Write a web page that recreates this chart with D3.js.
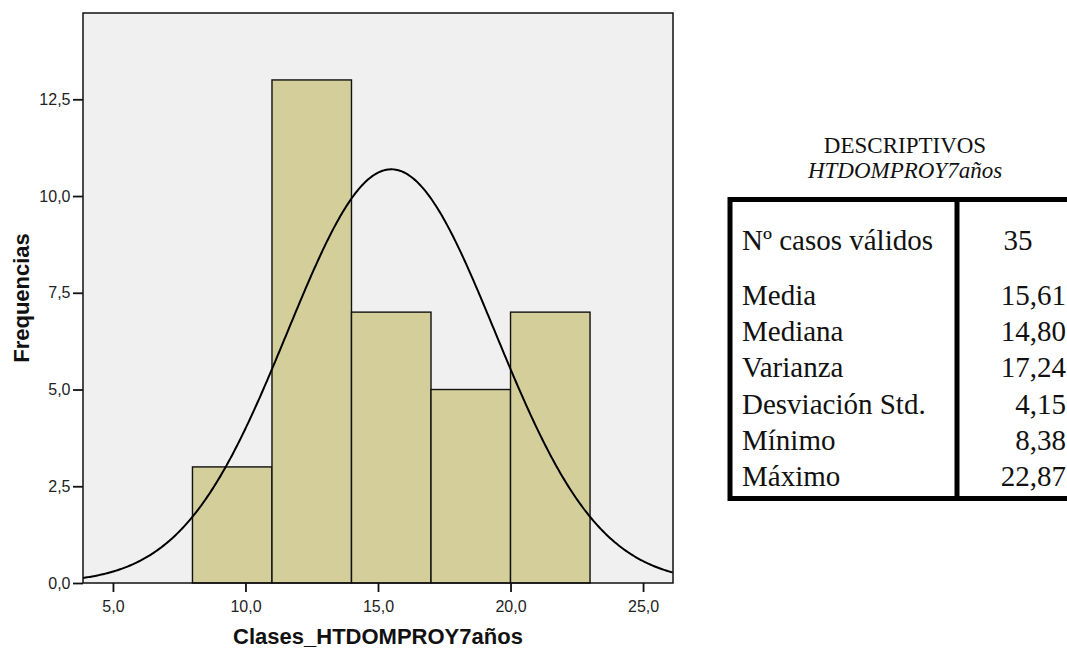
<!DOCTYPE html>
<html>
<head>
    <meta charset="utf-8">
    <title>Histograma HTDOMPROY7años</title>
    <script src="https://d3js.org/d3.v7.min.js"></script>
    <style>
        body { margin: 0; background: #fff; }
        svg { display: block; }
        .tick text { font-family: Arial, "Liberation Sans", sans-serif; font-size: 16px; fill: #222; }
        .axis-title { font-family: Arial, "Liberation Sans", sans-serif; font-weight: bold; font-size: 22px; fill: #111; }
        .stats text { font-family: "Times New Roman", "Liberation Serif", serif; fill: #111; }
    </style>
</head>
<body>
    <svg width="1067" height="648"></svg>

    <script>
    // histogram classes (lower bound of each class, width 3)
    const binStarts = [8, 11, 14, 17, 20];
    const binWidth = 3;
    const counts = [3, 13, 7, 5, 7];

    const xTicks = [5, 10, 15, 20, 25];
    const yTicks = [0, 2.5, 5, 7.5, 10, 12.5];

    // descriptive statistics table
    const statLabels = ["Nº casos válidos", "Media", "Mediana", "Varianza", "Desviación Std.", "Mínimo", "Máximo"];
    const statValues = ["35", "15,61", "14,80", "17,24", "4,15", "8,38", "22,87"];

    const svg = d3.select("svg");
    const locale = d3.formatLocale({ decimal: ",", thousands: ".", grouping: [3], currency: ["", " €"] });
    const fmt = locale.format(".1f");

    const plot = { left: 83, top: 13, right: 673, bottom: 583 };

    const x = d3.scaleLinear()
                .domain([3.87, 26.13])
                .range([plot.left, plot.right]);

    const y = d3.scaleLinear()
                .domain([0, 14.73])
                .range([plot.bottom, plot.top]);

    // plot background
    svg.append("rect")
        .attr("x", plot.left)
        .attr("y", plot.top)
        .attr("width", plot.right - plot.left)
        .attr("height", plot.bottom - plot.top)
        .style("fill", "#f0f0f0");

    // bars
    svg.selectAll("rect.bar")
        .data(binStarts)
        .enter().append("rect")
        .attr("class", "bar")
        .attr("x", d => x(d))
        .attr("y", (d, i) => y(counts[i]))
        .attr("width", d => x(d + binWidth) - x(d))
        .attr("height", (d, i) => y(0) - y(counts[i]))
        .style("fill", "#d3ce9a")
        .style("stroke", "#111")
        .style("stroke-width", 1.4);

    // normal curve fitted to the classes (same as SPSS)
    const n = d3.sum(counts);
    const mids = binStarts.map(b => b + binWidth / 2);
    const mean = d3.sum(mids, (m, i) => m * counts[i]) / n;
    const sd = Math.sqrt(d3.sum(mids, (m, i) => counts[i] * (m - mean) ** 2) / (n - 1));
    const density = v => n * binWidth / (sd * Math.sqrt(2 * Math.PI)) * Math.exp(-0.5 * ((v - mean) / sd) ** 2);
    const curveX = d3.range(x.domain()[0], x.domain()[1] + 0.001, 0.05);

    svg.append("path")
        .datum(curveX)
        .attr("d", d3.line().x(d => x(d)).y(d => y(density(d))))
        .style("fill", "none")
        .style("stroke", "#000")
        .style("stroke-width", 2);

    // frame
    svg.append("rect")
        .attr("x", plot.left)
        .attr("y", plot.top)
        .attr("width", plot.right - plot.left)
        .attr("height", plot.bottom - plot.top)
        .style("fill", "none")
        .style("stroke", "#111")
        .style("stroke-width", 1.5);

    // axes
    const xAxis = svg.append("g")
        .attr("transform", `translate(0,${plot.bottom})`)
        .call(d3.axisBottom(x).tickValues(xTicks).tickFormat(fmt).tickSize(9).tickPadding(8.5));
    const yAxis = svg.append("g")
        .attr("transform", `translate(${plot.left},0)`)
        .call(d3.axisLeft(y).tickValues(yTicks).tickFormat(fmt).tickSize(10).tickPadding(2.5));
    [xAxis, yAxis].forEach(a => {
        a.select(".domain").remove();
        a.selectAll(".tick line").style("stroke", "#111").style("stroke-width", 1.8);
    });

    svg.append("text")
        .attr("class", "axis-title")
        .attr("x", (plot.left + plot.right) / 2)
        .attr("y", 644)
        .attr("text-anchor", "middle")
        .text("Clases_HTDOMPROY7años");

    svg.append("text")
        .attr("class", "axis-title")
        .attr("transform", `translate(29,${(plot.top + plot.bottom) / 2}) rotate(-90)`)
        .attr("text-anchor", "middle")
        .text("Frequencias");

    // descriptives table
    const stats = svg.append("g").attr("class", "stats");
    stats.append("text")
        .attr("x", 905).attr("y", 153)
        .attr("text-anchor", "middle")
        .style("font-size", "23px")
        .text("DESCRIPTIVOS");
    stats.append("text")
        .attr("x", 905).attr("y", 178)
        .attr("text-anchor", "middle")
        .style("font-size", "23px")
        .style("font-style", "italic")
        .text("HTDOMPROY7años");

    const tbl = { left: 730, top: 199.5, bottom: 498.5, divider: 957, right: 1075 };
    stats.append("rect")
        .attr("x", tbl.left).attr("y", tbl.top)
        .attr("width", tbl.right - tbl.left).attr("height", tbl.bottom - tbl.top)
        .style("fill", "none").style("stroke", "#000").style("stroke-width", 5);
    stats.append("line")
        .attr("x1", tbl.divider).attr("x2", tbl.divider)
        .attr("y1", tbl.top).attr("y2", tbl.bottom)
        .style("stroke", "#000").style("stroke-width", 5);

    const rowY = d3.scaleLinear().domain([1, 6]).range([305, 486]);
    const baseline = i => i === 0 ? 250 : rowY(i);

    stats.selectAll("text.lab")
        .data(statLabels)
        .enter().append("text")
        .attr("class", "lab")
        .attr("x", 742)
        .attr("y", (d, i) => baseline(i))
        .style("font-size", "29px")
        .text(d => d);

    stats.selectAll("text.val")
        .data(statValues)
        .enter().append("text")
        .attr("class", "val")
        .attr("x", (d, i) => i === 0 ? 1018 : 1066)
        .attr("y", (d, i) => baseline(i))
        .attr("text-anchor", (d, i) => i === 0 ? "middle" : "end")
        .style("font-size", "29px")
        .text(d => d);
    </script>
</body>
</html>
